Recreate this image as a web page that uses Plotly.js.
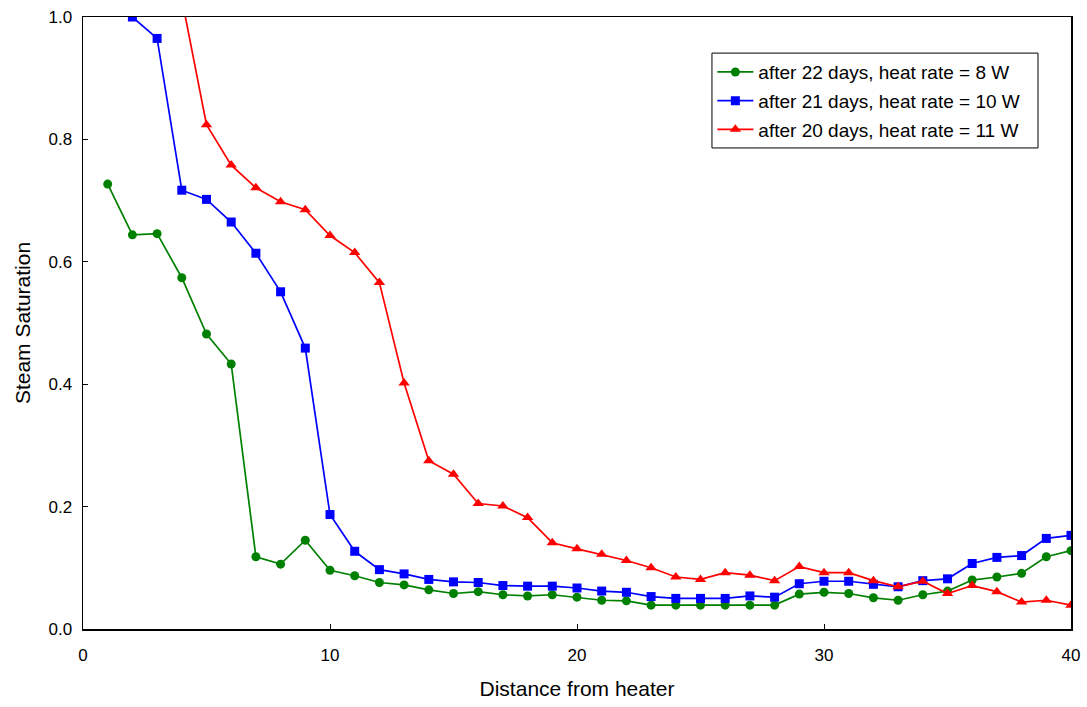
<!DOCTYPE html>
<html>
<head>
<meta charset="utf-8">
<script src="https://cdn.plot.ly/plotly-3.0.1.min.js"></script>
<style>
html,body{margin:0;padding:0;background:#fff;}
#chart{width:1087px;height:707px;}
</style>
</head>
<body>
<div id="chart"></div>
<script>
// Distance from heater
const xGreen = [1,2,3,4,5,6,7,8,9,10,11,12,13,14,15,16,17,18,19,20,21,22,23,24,25,26,27,28,29,30,31,32,33,34,35,36,37,38,39,40];
const xBlue  = [2,3,4,5,6,7,8,9,10,11,12,13,14,15,16,17,18,19,20,21,22,23,24,25,26,27,28,29,30,31,32,33,34,35,36,37,38,39,40];
const xRed   = [4,5,6,7,8,9,10,11,12,13,14,15,16,17,18,19,20,21,22,23,24,25,26,27,28,29,30,31,32,33,34,35,36,37,38,39,40];

// Steam saturation values
const green8W = [0.727,0.644,0.646,0.574,0.482,0.433,0.118,0.106,0.145,0.096,
                 0.087,0.076,0.072,0.064,0.058,0.061,0.056,0.054,0.056,0.052,
                 0.047,0.046,0.039,0.039,0.039,0.039,0.039,0.039,0.057,0.060,
                 0.058,0.051,0.047,0.056,0.062,0.080,0.085,0.091,0.118,0.128];
const blue10W = [1.000,0.965,0.717,0.702,0.665,0.614,0.551,0.459,0.187,
                 0.127,0.097,0.090,0.081,0.077,0.076,0.071,0.070,0.070,0.067,
                 0.062,0.060,0.053,0.050,0.050,0.050,0.054,0.052,0.074,0.078,
                 0.078,0.073,0.069,0.079,0.082,0.107,0.117,0.120,0.148,0.153];
const red11W  = [1.03,0.824,0.758,0.721,0.698,0.685,0.643,0.615,0.566,
                 0.402,0.275,0.253,0.205,0.201,0.182,0.141,0.131,0.122,0.112,
                 0.100,0.085,0.081,0.092,0.088,0.079,0.102,0.092,0.092,0.079,
                 0.069,0.078,0.058,0.071,0.061,0.044,0.047,0.039];

const names = ["after 22 days, heat rate = 8 W",
               "after 21 days, heat rate = 10 W",
               "after 20 days, heat rate = 11 W"];

const xTicks = [0,10,20,30,40];
const yTicks = [0,0.2,0.4,0.6,0.8,1.0];

const traces = [
  {x:xGreen, y:green8W, name:names[0], legendgroup:'g1', mode:'lines+markers', type:'scatter',
   line:{color:'#008000', width:1.7}, marker:{symbol:'circle', size:9, color:'#008000'}},
  {x:xBlue, y:blue10W, name:names[1], legendgroup:'g2', mode:'lines+markers', type:'scatter',
   line:{color:'#0000FF', width:1.7}, marker:{symbol:'square', size:9, color:'#0000FF'}},
  {x:xRed, y:red11W, name:names[2], legendgroup:'g3', mode:'lines+markers', type:'scatter',
   line:{color:'#FF0000', width:1.7}, marker:{symbol:'triangle-up', size:10, color:'#FF0000'}}
];

const FAM = 'Liberation Sans, Arial, sans-serif';
const tickFont = {family:FAM, size:17, color:'#000'};
const titleFont = {family:FAM, size:21, color:'#000'};

const layout = {
  width:1087, height:707,
  paper_bgcolor:'#fff', plot_bgcolor:'#fff',
  margin:{l:83, r:16, t:17, b:78},
  font:tickFont,
  showlegend:true,
  legend:{x:0.637, y:0.941, xanchor:'left', yanchor:'top',
          bgcolor:'rgba(0,0,0,0)', borderwidth:0,
          font:{family:FAM, size:19, color:'#000'},
          traceorder:'grouped', tracegroupgap:1, itemwidth:36},
  // legend frame (white box with black border, as in the original)
  shapes:[{type:'rect', xref:'paper', yref:'paper', layer:'above',
           x0:0.6366, x1:0.9666, y0:0.786, y1:0.941,
           line:{color:'#000', width:1}, fillcolor:'#fff'}],
  xaxis:{range:[0,40], tickvals:xTicks, ticktext:xTicks.map(String),
         showgrid:false, zeroline:false, showline:true, linecolor:'#000', linewidth:1.5,
         mirror:true, ticks:'inside', ticklen:5, tickcolor:'#000',
         tickfont:tickFont, ticklabelstandoff:10,
         title:{text:'Distance from heater', font:titleFont, standoff:17}},
  yaxis:{range:[0,1], tickvals:yTicks, ticktext:yTicks.map(v=>v.toFixed(1)),
         showgrid:false, zeroline:false, showline:true, linecolor:'#000', linewidth:1.5,
         mirror:true, ticks:'inside', ticklen:5, tickcolor:'#000',
         tickfont:tickFont, ticklabelstandoff:6,
         title:{text:'Steam Saturation', font:titleFont, standoff:12}}
};

Plotly.newPlot('chart', traces, layout, {displayModeBar:false, staticPlot:true});
</script>
</body>
</html>
